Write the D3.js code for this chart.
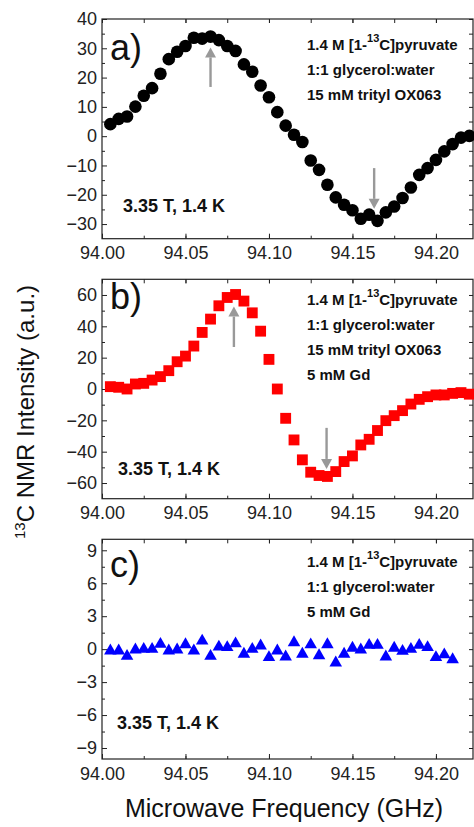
<!DOCTYPE html>
<html>
<head>
<meta charset="utf-8">
<script src="https://cdnjs.cloudflare.com/ajax/libs/d3/7.8.5/d3.min.js"></script>
<style>
body { margin: 0; background: #fff; }
text { font-family: "Liberation Sans", Arial, sans-serif; }
</style>
</head>
<body>
<svg id="chart" width="474" height="827"></svg>
<script>
// ---- data ----
var freq = [94.005, 94.010, 94.015, 94.020, 94.025, 94.030, 94.035, 94.040, 94.045, 94.050,
            94.055, 94.060, 94.065, 94.070, 94.075, 94.080, 94.085, 94.090, 94.095, 94.100,
            94.105, 94.110, 94.115, 94.120, 94.125, 94.130, 94.135, 94.140, 94.145, 94.150,
            94.155, 94.160, 94.165, 94.170, 94.175, 94.180, 94.185, 94.190, 94.195, 94.200,
            94.205, 94.210, 94.215, 94.220];

// a) trityl only
var intA = [4.1, 5.9, 6.7, 10.1, 13.8, 16.4, 21.3, 26.3, 28.8, 30.8,
            33.6, 33.3, 34.0, 32.8, 30.8, 29.1, 24.5, 22.0, 17.3, 13.3,
            8.2, 3.6, 0.5, -2.0, -8.3, -11.5, -16.6, -20.9, -23.4, -25.3,
            -28.2, -26.8, -28.9, -26.0, -24.0, -21.1, -17.5, -13.2, -10.9, -8.1,
            -5.2, -2.7, -0.5, 0.1];

// b) trityl + Gd
var intB = [1.5, 1.1, 0.0, 3.2, 3.6, 5.7, 7.9, 11.7, 17.4, 21.0,
            27.4, 36.1, 44.6, 53.1, 58.4, 60.3, 56.1, 48.6, 36.9, 18.9,
            0.0, -18.7, -32.5, -45.2, -53.1, -55.2, -55.8, -52.7, -46.3, -42.7,
            -35.7, -32.1, -26.5, -20.2, -17.0, -13.8, -9.6, -6.6, -4.9, -3.8,
            -3.8, -2.8, -2.3, -3.3];

// c) Gd only (42 points, 94.005 .. 94.210)
var intC = [-0.15, -0.15, -0.64, -0.06, 0.0, 0.0, 0.45, -0.15, -0.06, 0.42,
            -0.15, 0.75, -0.64, 0.2, 0.15, 0.5, -0.45, 0.0, 0.3, -0.76,
            -0.15, -0.7, 0.6, -0.45, 0.4, -0.58, 0.42, -1.24, -0.45, 0.1,
            -0.06, 0.36, 0.36, -0.7, 0.1, -0.18, 0.0, 0.36, 0.15, -0.75,
            -0.5, -0.95];

var xTicks = [94.00, 94.05, 94.10, 94.15, 94.20];
var xMinor = [94.025, 94.075, 94.125, 94.175, 94.20, 94.00, 94.05, 94.10, 94.15];
var yTicksA = [-30, -20, -10, 0, 10, 20, 30, 40];
var yMinorA = [-25, -15, -5, 5, 15, 25, 35];
var yTicksB = [-60, -40, -20, 0, 20, 40, 60];
var yMinorB = [-50, -30, -10, 10, 30, 50];
var yTicksC = [-9, -6, -3, 0, 3, 6, 9];
var yMinorC = [-7.5, -4.5, -1.5, 1.5, 4.5, 7.5];

var notesA = ["1:1 glycerol:water", "15 mM trityl OX063"];
var notesB = ["1:1 glycerol:water", "15 mM trityl OX063", "5 mM Gd"];
var notesC = ["1:1 glycerol:water", "5 mM Gd"];
var condition = "3.35 T, 1.4 K";

// arrows: x position, tail value, tip value
var arrowsA = [{x: 94.065, from: 16.8, to: 30.3}, {x: 94.163, from: -10.9, to: -24.8}];
var arrowsB = [{x: 94.079, from: 26.8, to: 52.6}, {x: 94.1345, from: -24.8, to: -51}];

// ---- layout ----
var left = 102, right = 473;
var svg = d3.select("#chart");

var x = d3.scaleLinear().domain([94.0, 94.2222]).range([left, right]);

var panels = [
  {top: 19, bottom: 238.7, yDomain: [-35, 40], ticks: yTicksA, minor: yMinorA,
   values: intA, symbol: d3.symbolCircle, size: 125, color: "#000",
   label: "a)", labelY: 60, notes: notesA, noteY: 50, condY: 212, condX: 123, arrows: arrowsA},
  {top: 279.3, bottom: 498.7, yDomain: [-70, 70], ticks: yTicksB, minor: yMinorB,
   values: intB, symbol: d3.symbolSquare, size: 118, color: "#ff0000",
   label: "b)", labelY: 309, notes: notesB, noteY: 305, condY: 475, condX: 118, arrows: arrowsB},
  {top: 539.3, bottom: 759, yDomain: [-10, 10], ticks: yTicksC, minor: yMinorC,
   values: intC, symbol: d3.symbolTriangle, size: 68, color: "#0000ff",
   label: "c)", labelY: 577, notes: notesC, noteY: 567, condY: 729, condX: 117, arrows: []}
];

function styleAxis(sel) {
  sel.select(".domain").remove();
  sel.selectAll(".tick line").attr("stroke", "#222").attr("stroke-width", 1);
  sel.selectAll(".tick text")
    .attr("fill", "#222")
    .style("font-size", "18px")
    .style("font-family", "'Liberation Sans', Arial, sans-serif");
}

panels.forEach(function(p) {
  var y = d3.scaleLinear().domain(p.yDomain).range([p.bottom, p.top]);
  var g = svg.append("g");

  // ticks, all pointing inward
  g.append("g").attr("transform", "translate(0," + p.bottom + ")")
    .call(d3.axisBottom(x).tickValues(xMinor).tickSize(-3).tickFormat(""))
    .call(styleAxis);
  g.append("g").attr("transform", "translate(0," + p.bottom + ")")
    .call(d3.axisBottom(x).tickValues(xTicks).tickSize(-5).tickPadding(8).tickFormat(d3.format(".2f")))
    .call(styleAxis);
  g.append("g").attr("transform", "translate(0," + p.top + ")")
    .call(d3.axisTop(x).tickValues(xTicks.concat(xMinor)).tickSize(-4).tickFormat(""))
    .call(styleAxis);

  g.append("g").attr("transform", "translate(" + left + ",0)")
    .call(d3.axisLeft(y).tickValues(p.minor).tickSize(-3).tickFormat(""))
    .call(styleAxis);
  g.append("g").attr("transform", "translate(" + left + ",0)")
    .call(d3.axisLeft(y).tickValues(p.ticks).tickSize(-5).tickPadding(5).tickFormat(d3.format("d")))
    .call(styleAxis);
  g.append("g").attr("transform", "translate(" + right + ",0)")
    .call(d3.axisRight(y).tickValues(p.ticks.concat(p.minor)).tickSize(-4).tickFormat(""))
    .call(styleAxis);

  // frame
  g.append("rect")
    .attr("x", left).attr("y", p.top)
    .attr("width", right - left).attr("height", p.bottom - p.top)
    .attr("fill", "none").attr("stroke", "#222").attr("stroke-width", 1.2);

  // points
  var sym = d3.symbol().type(p.symbol).size(p.size);
  g.append("g").selectAll("path")
    .data(p.values)
    .enter().append("path")
    .attr("d", sym)
    .attr("transform", function(d, i) { return "translate(" + x(freq[i]) + "," + y(d) + ")"; })
    .attr("fill", p.color);

  // grey arrows
  p.arrows.forEach(function(a) {
    var ax = x(a.x), y0 = y(a.from), y1 = y(a.to);
    var dir = y1 < y0 ? 1 : -1;
    var head = 10;
    g.append("line")
      .attr("x1", ax).attr("x2", ax)
      .attr("y1", y0).attr("y2", y1 + dir * head)
      .attr("stroke", "#999").attr("stroke-width", 2.4);
    g.append("path")
      .attr("d", "M" + ax + "," + y1 + "L" + (ax - 5.5) + "," + (y1 + dir * head) + "L" + (ax + 5.5) + "," + (y1 + dir * head) + "Z")
      .attr("fill", "#999");
  });

  // panel letter
  g.append("text")
    .attr("x", 110).attr("y", p.labelY)
    .style("font-size", "36px").attr("fill", "#111")
    .text(p.label);

  // sample description
  var t = g.append("text")
    .attr("x", 307).attr("y", p.noteY)
    .style("font-size", "15px").style("font-weight", "bold").attr("fill", "#111");
  t.append("tspan").text("1.4 M [1-");
  t.append("tspan").attr("dy", -8).style("font-size", "11px").text("13");
  t.append("tspan").attr("dy", 8).text("C]pyruvate");
  p.notes.forEach(function(n, i) {
    g.append("text")
      .attr("x", 307).attr("y", p.noteY + 25 * (i + 1))
      .style("font-size", "15px").style("font-weight", "bold").attr("fill", "#111")
      .text(n);
  });

  g.append("text")
    .attr("x", p.condX).attr("y", p.condY)
    .style("font-size", "18px").style("font-weight", "bold").attr("fill", "#111")
    .text(condition);
});

// axis titles
svg.append("text")
  .attr("x", 284).attr("y", 817)
  .attr("text-anchor", "middle")
  .style("font-size", "25px").attr("fill", "#111")
  .text("Microwave Frequency (GHz)");

var yt = svg.append("text")
  .attr("transform", "translate(34,412) rotate(-90)")
  .attr("text-anchor", "middle")
  .style("font-size", "24px").attr("fill", "#111");
yt.append("tspan").attr("dy", -9).style("font-size", "15px").text("13");
yt.append("tspan").attr("dy", 9).text("C NMR Intensity (a.u.)");
</script>
</body>
</html>
